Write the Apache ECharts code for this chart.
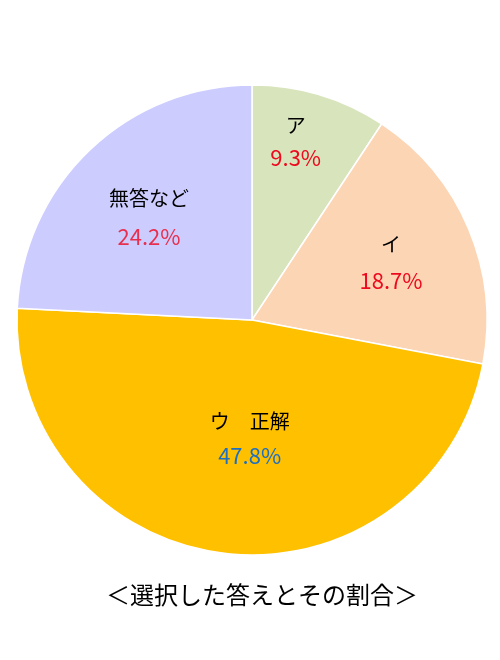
<!DOCTYPE html>
<html><head><meta charset="utf-8">
<script src="https://cdn.jsdelivr.net/npm/echarts@6/dist/echarts.min.js"></script>
<style>html,body{margin:0;padding:0;background:#fff}#c{width:500px;height:660px}</style>
</head><body><div id="c"></div>
<script>
const categories = ['ア', 'イ', 'ウ\u3000正解', '無答など'];
const values = [9.3, 18.7, 47.8, 24.2];
const title = '＜選択した答えとその割合＞';

const sliceColors = ['#d8e4bc', '#fcd5b5', '#ffc000', '#ccccff'];
const pctColors = ['#ee0a1e', '#ee0a1e', '#1f6fc0', '#e8304e'];
const labelOffsets = [[9, -63], [28, -11], [12, -1], [-20, -15]];
const lineHeights = [32, 36, 34, 38];

const chart = echarts.init(document.getElementById('c'), null, {renderer: 'canvas'});
const data = categories.map((n, i) => ({
  name: n,
  value: values[i],
  itemStyle: {color: sliceColors[i]},
  label: {
    offset: labelOffsets[i],
    rich: {
      n: {fontSize: 20, color: '#000', lineHeight: lineHeights[i], fontFamily: 'Noto Sans CJK JP'},
      p: {fontSize: 22, color: pctColors[i], lineHeight: lineHeights[i], fontFamily: 'Noto Sans CJK JP'}
    }
  }
}));

chart.setOption({
  animation: false,
  title: {
    text: title, left: 257, top: 578, textAlign: 'center',
    textStyle: {fontSize: 24, fontWeight: 'normal', color: '#000', fontFamily: 'Noto Sans CJK JP'}
  },
  series: [{
    type: 'pie',
    center: [252, 320],
    radius: [0, 235],
    startAngle: 90,
    clockwise: true,
    data: data,
    itemStyle: {borderColor: '#fff', borderWidth: 1.5},
    label: {
      show: true,
      position: 'inside',
      formatter: p => '{n|' + p.name + '}\n{p|' + p.value.toFixed(1) + '%}'
    },
    labelLine: {show: false},
    emphasis: {disabled: true}
  }]
});
</script></body></html>
